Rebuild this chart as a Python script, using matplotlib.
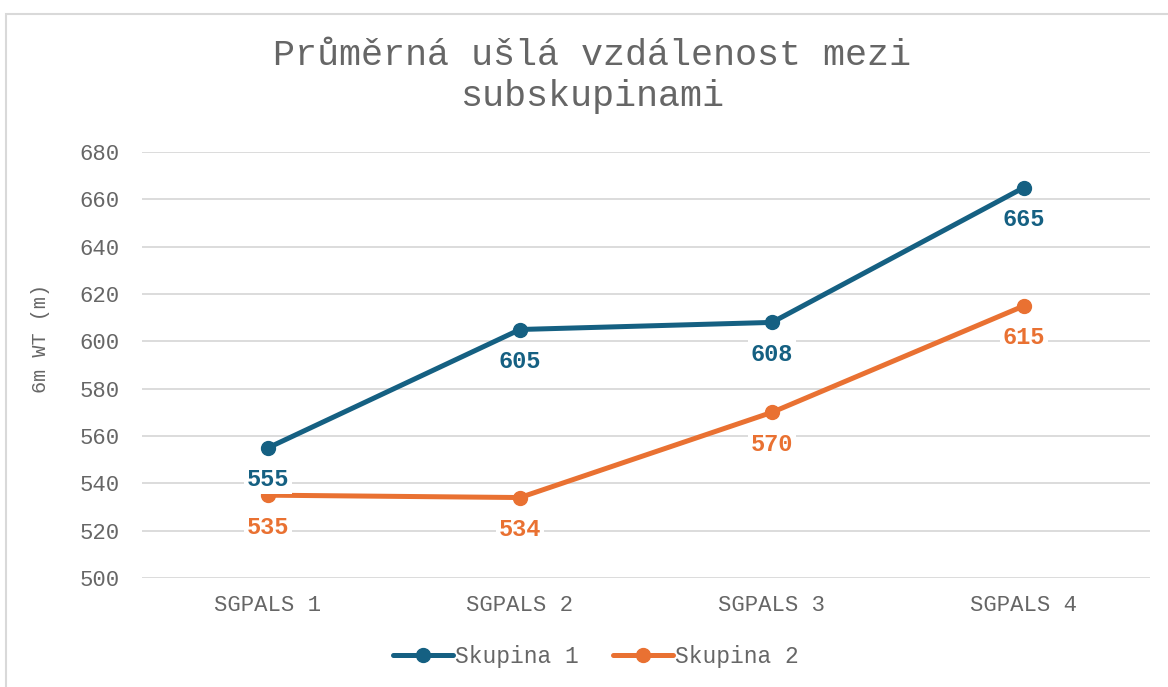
import matplotlib.pyplot as plt
from matplotlib.patches import Rectangle

# data
categories = ['SGPALS 1', 'SGPALS 2', 'SGPALS 3', 'SGPALS 4']
skupina_1 = [555, 605, 608, 665]
skupina_2 = [535, 534, 570, 615]
series_names = ['Skupina 1', 'Skupina 2']
y_ticks = [500, 520, 540, 560, 580, 600, 620, 640, 660, 680]

BLUE = '#156082'
ORANGE = '#E97132'
GREY = '#666666'

plt.rcParams['font.family'] = ['Liberation Mono', 'DejaVu Sans Mono']

fig = plt.figure(figsize=(11.68, 6.87), dpi=100)
ax = fig.add_axes([142 / 1168, 109 / 687, 1008 / 1168, 426 / 687])

# chart area border (only top and left visible in the reference)
fig.add_artist(Rectangle((6 / 1168, -0.1), 1.2, 1.1 - 14 / 687,
                         transform=fig.transFigure, fill=False,
                         edgecolor='#D9D9D9', linewidth=1.5))

x = range(len(categories))
for vals, name, col in [(skupina_1, series_names[0], BLUE),
                        (skupina_2, series_names[1], ORANGE)]:
    ax.plot(x, vals, color=col, linewidth=3.6, marker='o', markersize=10,
            label=name, solid_capstyle='round', zorder=3)
    for xi, v in zip(x, vals):
        ax.annotate(str(v), (xi, v), xytext=(0, -23), textcoords='offset points',
                    ha='center', va='center', fontsize=17, fontweight='bold',
                    color=col, zorder=4,
                    bbox=dict(boxstyle='square,pad=0.1', fc='white', ec='none'))

ax.set_xlim(-0.5, len(categories) - 0.5)
ax.set_ylim(500, 680)
ax.set_yticks(y_ticks)
ax.set_xticks(list(x))
ax.set_xticklabels(categories)
ax.grid(axis='y', color='#D9D9D9', linewidth=1.3)
ax.set_axisbelow(True)
for s in ax.spines.values():
    s.set_visible(False)
ax.tick_params(axis='both', length=0, colors=GREY, labelsize=16)
ax.tick_params(axis='y', pad=16)
ax.tick_params(axis='x', pad=12)

ax.set_ylabel('6m WT (m)', color=GREY, fontsize=14.5)
ax.yaxis.set_label_coords(-92 / 1008, (578 - 338) / 426)

fig.text(592 / 1168, 1 - 76 / 687, 'Průměrná ušlá vzdálenost mezi\nsubskupinami',
         ha='center', va='center', fontsize=26.5, color=GREY, linespacing=1.2)

fig.legend(loc='center', bbox_to_anchor=(596 / 1168, 1 - 657 / 687), ncol=2,
           frameon=False, fontsize=16.5, handlelength=2.6, columnspacing=1.5,
           handletextpad=0.1, labelcolor=GREY)

fig.savefig('out.png', dpi=100)
